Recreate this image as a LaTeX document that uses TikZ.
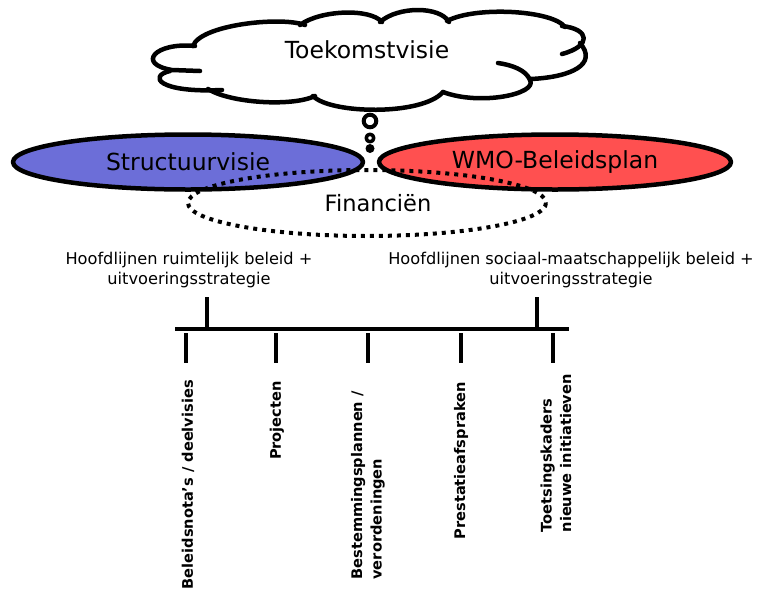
\documentclass[tikz,border=0pt]{standalone}
\usepackage{fontspec}
\setmainfont{DejaVu Sans}
\usetikzlibrary{shapes.geometric}
\definecolor{structblauw}{RGB}{108,110,216}
\definecolor{wmorood}{RGB}{255,80,80}

\begin{document}
\begin{tikzpicture}[x=1pt,y=-1pt,line join=round,
		ovaal/.style={draw,ellipse,line width=4.5pt,inner sep=0pt,minimum width=350pt,minimum height=55pt,font=\fontsize{23.5}{27}\selectfont},
		wolklijn/.style={line width=4.5pt,line cap=round},
		hoofdlijn/.style={align=center,font=\fontsize{16.2}{19.5}\selectfont},
		streep/.style={line width=4pt},
		kader/.style={rotate=90,anchor=east,align=left,inner sep=0pt,font=\bfseries\fontsize{14.6}{19.5}\selectfont}]
		\useasboundingbox (0,0) rectangle (760,595);
		
		% Wolk met de toekomstvisie
		\draw[wolklijn] (193,46) .. controls (200,25) and (280,16) .. (305,25);
		\draw[wolklijn] (300,25) .. controls (320,10) and (370,8) .. (382,22);
		\draw[wolklijn] (380,22) .. controls (398,6) and (440,6) .. (449,22);
		\draw[wolklijn] (447,21) .. controls (475,6) and (552,10) .. (565,27);
		\draw[wolklijn] (562,26) .. controls (590,29) and (592,46) .. (562,54);
		\draw[wolklijn] (531,79) .. controls (572,77) and (598,64) .. (580,43);
		\draw[wolklijn] (443,92) .. controls (480,106) and (538,94) .. (530,80) .. controls (526,70) and (512,65) .. (498,63);
		\draw[wolklijn] (313,96) .. controls (330,114) and (422,116) .. (443,92);
		\draw[wolklijn] (208,89) .. controls (230,103) and (292,107) .. (315,96);
		\draw[wolklijn] (170,71) .. controls (148,76) and (158,93) .. (222,90);
		\draw[wolklijn] (195,46) .. controls (155,42) and (136,64) .. (172,70) -- (200,71);
		\node (wolk) at (367,50) {\fontsize{23.5}{27}\selectfont Toekomstvisie};
		
		% Denkbelletjes
		\draw[line width=4pt] (370,121) circle (6.3);
		\draw[line width=3.5pt] (370,138) circle (3.8);
		\fill (370,148.5) circle (4.5);
		
		% De twee plannen
		\node[ovaal,fill=structblauw] (struct) at (188,162) {Structuurvisie};
		\node[ovaal,fill=wmorood,minimum width=352pt] (wmo) at (555,162) {WMO-Beleidsplan};
		
		% Financien (gestippeld)
		\draw[line width=4pt,dash pattern=on 4pt off 5pt] (367,203) ellipse (179 and 33);
		\node (fin) at (378,203) {\fontsize{22.5}{26}\selectfont Financiën};
		
		% Hoofdlijnen
		\node[hoofdlijn] (ruimte) at (189,270) {Hoofdlijnen ruimtelijk beleid +\\uitvoeringsstrategie};
		\node[hoofdlijn] (sociaal) at (571,270) {Hoofdlijnen sociaal-maatschappelijk beleid +\\uitvoeringsstrategie};
		
		% Tijdlijn met streepjes
		\draw[streep] (175,329) -- (569,329);
		\draw[streep] (207,297) -- (207,329);
		\draw[streep] (537,297) -- (537,329);
		\foreach \x in {186,276,368,461,553}
		\draw[streep] (\x,333) -- (\x,363);
		
		% Uitwerkingen
		\node[kader] (nota) at (188,380) {Beleidsnota’s / deelvisies};
		\node[kader] (proj) at (277,381) {Projecten};
		\node[kader] (bestem) at (368,391) {Bestemmingsplannen /\\verordeningen};
		\node[kader] (prest) at (461,382) {Prestatieafspraken};
		\node[kader] (toets) at (556,374) {Toetsingskaders\\nieuwe initiatieven};
		
	\end{tikzpicture}
\end{document}
